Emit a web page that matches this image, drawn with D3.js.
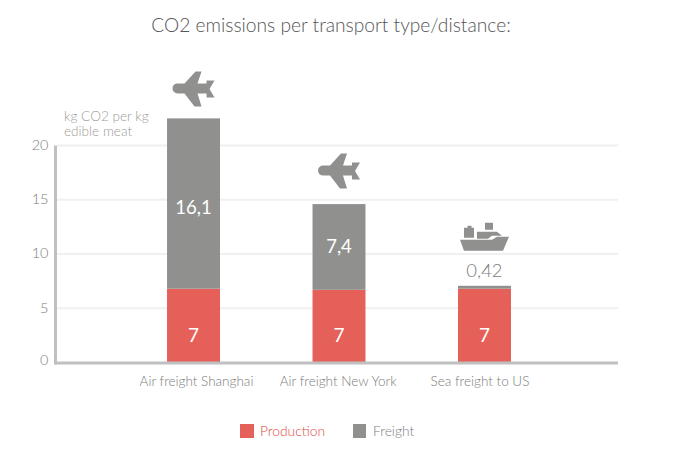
<!DOCTYPE html>
<html>
<head>
<meta charset="utf-8">
<script src="https://cdn.jsdelivr.net/npm/d3@7"></script>
<style>
    html, body { margin: 0; background: #fff; }
    svg { display: block; font-family: Lato, "Open Sans", sans-serif; font-weight: 300; }
</style>
</head>
<body>
<svg id="chart" width="677" height="464"></svg>
<script>
const categories = ['Air freight Shanghai', 'Air freight New York', 'Sea freight to US'];
// bar heights as drawn in the picture (they differ a bit from the printed labels)
const production = [6.8, 6.7, 6.8];
const freight = [15.7, 7.9, 0.27];
const productionLabels = ['7', '7', '7'];
const freightLabels = ['16,1', '7,4', '0,42'];
const yTicks = [0, 5, 10, 15, 20];
const legendNames = ['Production', 'Freight'];
const icons = ['plane', 'plane', 'ship'];

const RED = '#e46058';
const GREY = '#90918f';
const TEXT_GREY = '#7c7c7c';

const planePath = 'M-16,-5.5 L13,-5.5 L13,-8.5 L21,-8.5 L16,0 L21,8.5 L13,8.5 L13,4.5 L4,4.5 L8,17.5 L1,17.5 L-9,4.5 ' +
    'L-16,4.5 A5,5 0 0 1 -16,-5.5 Z M-9,-5.5 L2,-17.5 L8,-17.5 L4,-5.5 Z';
const shipPath = 'M-24.5,3 L7.5,3 L12.5,0 L24.5,0 L18.5,14 L-20.5,14 Z ' +
    'M-20.5,1 L-20.5,-9 L-17,-9 L-17,-11 L-13,-11 L-13,-9 L-10.5,-9 L-10.5,1 Z ' +
    'M-7.5,-5 L12.5,-5 L17.5,-1 L7.5,-1 L3.5,2 L-7.5,2 Z M0.5,-14 L8.5,-14 L8.5,-7 L0.5,-7 Z';

const svg = d3.select('#chart');

const x = d3.scaleBand().domain(categories).range([74.5, 603.5]).padding(0.636);
const y = d3.scaleLinear().domain([0, 20]).range([362.5, 145.5]);
// the category labels sit slightly closer together than the bars
const xLabel = d3.scalePoint().domain(categories).range([196.5, 480]);

// Title
svg.append('text')
    .attr('x', 331).attr('y', 32)
    .attr('text-anchor', 'middle')
    .attr('font-size', 19.2)
    .attr('fill', '#555')
    .text('CO2 emissions per transport type/distance:');

// Unit label
svg.append('text')
    .attr('fill', '#a09d96')
    .attr('font-size', 13.6)
    .selectAll('tspan')
    .data(['kg CO2 per kg', 'edible meat'])
    .join('tspan')
    .attr('x', 64)
    .attr('y', (d, i) => 121 + i * 15)
    .text(d => d);

// Grid lines
svg.append('g')
    .selectAll('line')
    .data(yTicks.filter(d => d > 0))
    .join('line')
    .attr('x1', 57).attr('x2', 618)
    .attr('y1', d => y(d)).attr('y2', d => y(d))
    .attr('stroke', '#f0f0f0')
    .attr('stroke-width', 2);

// Y axis
const yAxis = svg.append('g')
    .attr('transform', 'translate(55.5,0)')
    .call(d3.axisLeft(y).tickValues(yTicks).tickSize(0).tickPadding(7));
yAxis.select('.domain').remove();
yAxis.selectAll('text')
    .attr('font-family', 'Lato, "Open Sans", sans-serif')
    .attr('font-size', 14.5)
    .attr('fill', TEXT_GREY)
    .attr('transform', d => `translate(0,${d === 0 ? -2.5 : -0.7})`);

// Stacked bars
svg.append('g')
    .selectAll('rect')
    .data(categories)
    .join('rect')
    .attr('x', d => x(d))
    .attr('width', x.bandwidth())
    .attr('y', (d, i) => y(production[i]))
    .attr('height', (d, i) => y(0) - y(production[i]))
    .attr('fill', RED);

svg.append('g')
    .selectAll('rect')
    .data(categories)
    .join('rect')
    .attr('x', d => x(d))
    .attr('width', x.bandwidth())
    .attr('y', (d, i) => y(production[i] + freight[i]))
    .attr('height', (d, i) => y(production[i]) - y(production[i] + freight[i]))
    .attr('fill', GREY);

// Axis lines on top of the bar bases
svg.append('line')
    .attr('x1', 55.5).attr('x2', 55.5)
    .attr('y1', y(20)).attr('y2', y(0) + 2)
    .attr('stroke', '#c0c0c0').attr('stroke-width', 3);
svg.append('line')
    .attr('x1', 54).attr('x2', 618)
    .attr('y1', y(0) + 0.5).attr('y2', y(0) + 0.5)
    .attr('stroke', '#c0c0c0').attr('stroke-width', 3);

// Value labels
svg.append('g')
    .selectAll('text')
    .data(categories)
    .join('text')
    .attr('x', d => x(d) + x.bandwidth() / 2)
    .attr('y', (d, i) => y(production[i] / 2) + 16)
    .attr('text-anchor', 'middle')
    .attr('font-size', 19)
    .attr('font-weight', 400)
    .attr('fill', '#fff')
    .text((d, i) => productionLabels[i]);

svg.append('g')
    .selectAll('text')
    .data(categories)
    .join('text')
    .attr('x', d => x(d) + x.bandwidth() / 2)
    .attr('y', (d, i) => i < 2
        ? y(production[i] + freight[i] / 2) + [10, 6][i]
        : y(production[i] + freight[i]) - 9)
    .attr('text-anchor', 'middle')
    .attr('font-size', 18.5)
    .attr('font-weight', (d, i) => i < 2 ? 400 : 300)
    .attr('fill', (d, i) => i < 2 ? '#fff' : TEXT_GREY)
    .text((d, i) => freightLabels[i]);

// Transport icons
svg.append('g')
    .selectAll('path')
    .data(categories)
    .join('path')
    .attr('d', (d, i) => icons[i] === 'plane' ? planePath : shipPath)
    .attr('fill', GREY)
    .attr('transform', (d, i) => {
        const cx = x(d) + x.bandwidth() / 2;
        const top = y(production[i] + freight[i]);
        const off = [29.5, 33, 49][i];
        return `translate(${cx},${top - off})`;
    });

// Category labels
svg.append('g')
    .selectAll('text')
    .data(categories)
    .join('text')
    .attr('x', d => xLabel(d))
    .attr('y', 386)
    .attr('text-anchor', 'middle')
    .attr('font-size', 13.5)
    .attr('fill', TEXT_GREY)
    .text(d => d);

// Legend
const legend = svg.append('g')
    .selectAll('g')
    .data(legendNames)
    .join('g')
    .attr('transform', (d, i) => `translate(${[240, 353][i]},424)`);
legend.append('rect')
    .attr('width', (d, i) => [14, 13][i])
    .attr('height', 14)
    .attr('fill', (d, i) => i === 0 ? RED : GREY);
legend.append('text')
    .attr('x', 20)
    .attr('y', 12)
    .attr('font-size', 13.8)
    .attr('fill', (d, i) => i === 0 ? '#dc4a42' : TEXT_GREY)
    .text(d => d);
</script>
</body>
</html>
